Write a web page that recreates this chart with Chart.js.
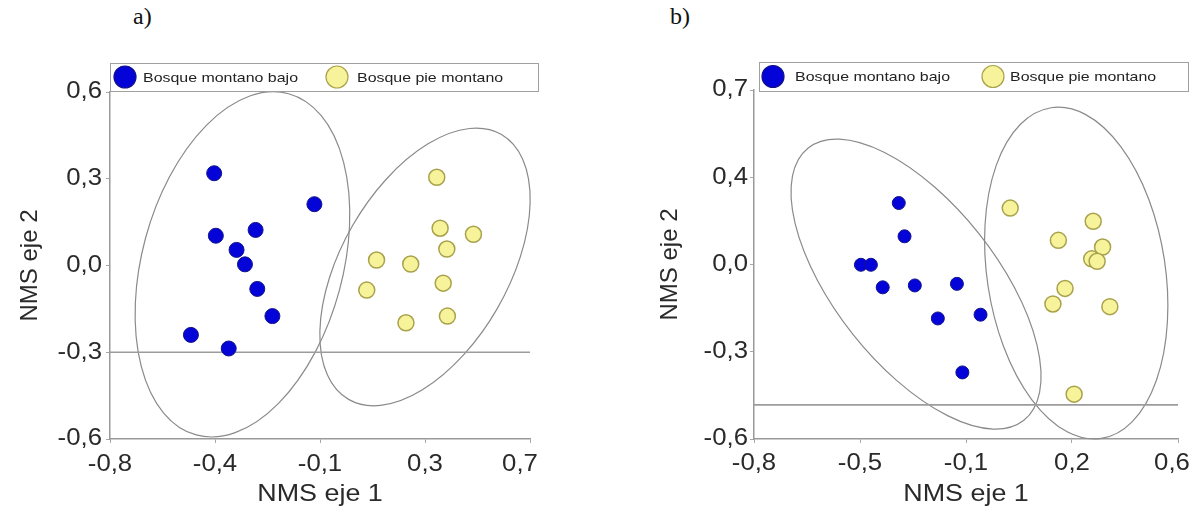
<!DOCTYPE html>
<html>
<head>
<meta charset="utf-8">
<script src="https://cdn.jsdelivr.net/npm/chart.js@4.4.1/dist/chart.umd.min.js"></script>
<style>
body{margin:0;background:#fff;width:1194px;height:508px;position:relative;overflow:hidden}
.pan{position:absolute;top:0}
.lab{position:absolute;top:3px;font:24px "Liberation Serif","Times New Roman",serif;color:#111}
</style>
</head>
<body>
<div class="lab" style="left:133px">a)</div>
<div class="lab" style="left:670px">b)</div>
<canvas id="ca" class="pan" style="left:0" width="560" height="508"></canvas>
<canvas id="cb" class="pan" style="left:580px" width="614" height="508"></canvas>
<script>
// ---- panel a ----
const xTicksA=['-0,8','-0,4','-0,1','0,3','0,7']
const yTicksA=['-0,6','-0,3','0,0','0,3','0,6']
const xBajoA=[-0.428,-0.070,-0.422,-0.280,-0.348,-0.318,-0.274,-0.220,-0.511,-0.376]
const yBajoA=[0.319,0.212,0.103,0.123,0.054,0.004,-0.081,-0.175,-0.240,-0.287]
const xPieA=[0.367,0.379,0.498,0.403,0.152,0.274,0.117,0.390,0.257,0.405]
const yPieA=[0.305,0.129,0.108,0.057,0.019,0.005,-0.085,-0.061,-0.198,-0.175]
// ellipse: centre x,y then two half-axis vectors (data units)
const ellBajoA=[-0.327,0.004,0.165,0.590,0.346,-0.091]
const ellPieA=[0.325,-0.005,0.273,0.458,0.258,-0.144]
const hLineA=-0.3

// ---- panel b ----
const xTicksB=['-0,8','-0,5','-0,1','0,2','0,6']
const yTicksB=['-0,6','-0,3','0,0','0,4','0,7']
const xBajoB=[-0.322,-0.303,-0.447,-0.414,-0.375,-0.269,-0.130,-0.193,-0.052,-0.112]
const yBajoB=[0.279,0.155,0.049,0.049,-0.035,-0.028,-0.022,-0.151,-0.137,-0.352]
const xPieB=[0.046,0.320,0.205,0.351,0.315,0.333,0.227,0.187,0.375,0.257]
const yPieB=[0.260,0.211,0.140,0.115,0.071,0.062,-0.039,-0.097,-0.107,-0.433]
const ellBajoB=[-0.265,-0.023,-0.356,0.507,0.209,0.186]
const ellPieB=[0.264,0.018,-0.083,0.616,0.291,0.050]
const hLineB=-0.473

const series=['Bosque montano bajo','Bosque pie montano']
const axisX='NMS eje 1', axisY='NMS eje 2'

const BLUE='#0404d8', BLUE_B='#12128a', YEL='#f7f39a', YEL_B='#a9a24c'
const SX=1.12
const FONT='"Liberation Sans", Arial, sans-serif'

function sText(ctx,txt,x,y,align,rot,sx){
  ctx.save()
  ctx.translate(x,y)
  ctx.scale(sx,1)
  if(rot) ctx.rotate(rot)
  ctx.textAlign=align
  ctx.textBaseline='middle'
  ctx.fillText(txt,0,0)
  ctx.restore()
}

function pts(xs,ys){return xs.map((x,i)=>({x:x,y:ys[i]}))}

function makeDecor(c){
  return {
    id:'decor',
    beforeDatasetsDraw(chart){
      const ctx=chart.ctx, xs=chart.scales.x, ys=chart.scales.y
      ctx.save()
      ctx.strokeStyle='#8a8a8a'
      ctx.lineWidth=1.2
      c.ellipses.forEach(e=>{
        const cx=xs.getPixelForValue(e[0]), cy=ys.getPixelForValue(e[1])
        const ux=xs.getPixelForValue(e[0]+e[2])-cx, uy=ys.getPixelForValue(e[1]+e[3])-cy
        const vx=xs.getPixelForValue(e[0]+e[4])-cx, vy=ys.getPixelForValue(e[1]+e[5])-cy
        ctx.save()
        ctx.beginPath()
        ctx.transform(ux,uy,vx,vy,cx,cy)
        ctx.arc(0,0,1,0,Math.PI*2)
        ctx.restore()
        ctx.stroke()
      })
      ctx.restore()
    },
    afterDraw(chart){
      const ctx=chart.ctx, xs=chart.scales.x, ys=chart.scales.y, a=chart.chartArea
      ctx.save()
      ctx.fillStyle='#2a2a2a'
      ctx.font='23px '+FONT
      xs.ticks.forEach((t,i)=>{
        let px=xs.getPixelForValue(t.value)
        if(i===xs.ticks.length-1) px+=c.lastShift
        sText(ctx,c.xLabels[i],px,c.xLabY,'center',0,SX)
      })
      ys.ticks.forEach((t,i)=>sText(ctx,c.yLabels[i],a.left-c.yLabGap,ys.getPixelForValue(t.value),'right',0,SX))
      ctx.font='24px '+FONT
      sText(ctx,axisX,(a.left+a.right)/2,494,'center',0,SX)
      sText(ctx,axisY,c.yTitleX,(a.top+a.bottom)/2,'center',-Math.PI/2,1)
      // legend box
      const L=c.legend
      ctx.fillStyle='#fff'
      ctx.fillRect(L.x1,L.y1,L.x2-L.x1,L.y2-L.y1)
      ctx.strokeStyle='#a0a0a0'
      ctx.lineWidth=1
      ctx.strokeRect(L.x1+0.5,L.y1+0.5,L.x2-L.x1,L.y2-L.y1)
      const cy=(L.y1+L.y2)/2
      chart.data.datasets.filter(d=>d.type!=='line').forEach((d,i)=>{
        ctx.beginPath()
        ctx.arc(L.circ[i],cy,11,0,Math.PI*2)
        ctx.fillStyle=d.backgroundColor
        ctx.fill()
        ctx.strokeStyle=d.borderColor
        ctx.lineWidth=1.2
        ctx.stroke()
        ctx.fillStyle='#222'
        ctx.font='13.5px '+FONT
        sText(ctx,d.label,L.text[i],cy+1,'left',0,1.18)
      })
      ctx.restore()
    }
  }
}

function makeChart(id,d,area,c){
  const W=document.getElementById(id).width
  const evenTicks=s=>{s.ticks=[0,1,2,3,4].map(i=>({value:s.min+i*(s.max-s.min)/4}))}
  return new Chart(document.getElementById(id).getContext('2d'),{
    type:'scatter',
    data:{datasets:[
      {label:series[0],data:pts(d.xb,d.yb),backgroundColor:BLUE,borderColor:BLUE_B,borderWidth:1,pointRadius:d.rb,pointHoverRadius:d.rb,order:1},
      {label:series[1],data:pts(d.xp,d.yp),backgroundColor:YEL,borderColor:YEL_B,borderWidth:1.5,pointRadius:8,pointHoverRadius:8,order:2},
      {type:'line',label:'ref',data:[{x:d.xmin,y:d.h},{x:d.xmax,y:d.h}],borderColor:'#9c9c9c',borderWidth:1.6,pointRadius:0,order:3}
    ]},
    options:{
      responsive:false,
      animation:false,
      events:[],
      layout:{padding:{left:0,top:area.top,right:W-area.right,bottom:0}},
      plugins:{legend:{display:false},tooltip:{enabled:false}},
      scales:{
        x:{type:'linear',min:d.xmin,max:d.xmax,afterBuildTicks:evenTicks,
          ticks:{display:false},
          grid:{drawOnChartArea:false,drawTicks:true,tickLength:4,color:'#a8a8a8'},
          border:{color:'#9a9a9a',width:1.5},
          afterFit:s=>{s.height=508-area.bottom}},
        y:{type:'linear',min:d.ymin,max:d.ymax,afterBuildTicks:evenTicks,
          ticks:{display:false},
          grid:{drawOnChartArea:false,drawTicks:true,tickLength:4,color:'#a8a8a8'},
          border:{color:'#9a9a9a',width:1.5},
          afterFit:s=>{s.width=area.left}}
      }
    },
    plugins:[makeDecor(c)]
  })
}

makeChart('ca',
  {xb:xBajoA,yb:yBajoA,xp:xPieA,yp:yPieA,h:hLineA,xmin:-0.8,xmax:0.7,ymin:-0.6,ymax:0.6,rb:7.5},
  {left:110,right:530,top:92,bottom:439},
  {ellipses:[ellBajoA,ellPieA],xLabels:xTicksA,yLabels:yTicksA,xLabY:465,yLabGap:8,yTitleX:30,lastShift:-10,
   legend:{x1:110,y1:63,x2:538,y2:91,circ:[125,337],text:[143,357]}})

makeChart('cb',
  {xb:xBajoB,yb:yBajoB,xp:xPieB,yp:yPieB,h:hLineB,xmin:-0.8,xmax:0.6,ymin:-0.6,ymax:0.7,rb:6.5},
  {left:174,right:598,top:90,bottom:439},
  {ellipses:[ellBajoB,ellPieB],xLabels:xTicksB,yLabels:yTicksB,xLabY:464,yLabGap:6,yTitleX:90,lastShift:-6,
   legend:{x1:179,y1:62,x2:608,y2:91,circ:[193,413],text:[215,430]}})
</script>
</body>
</html>
